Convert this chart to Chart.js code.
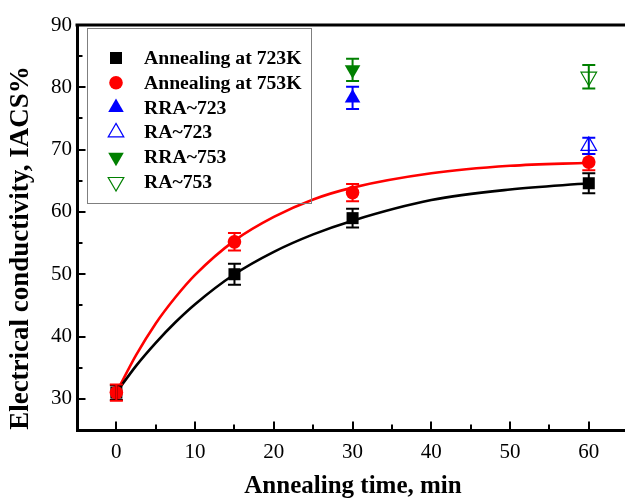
<!DOCTYPE html>
<html>
<head>
<meta charset="utf-8">
<title>Electrical conductivity vs annealing time</title>
<script src="https://cdn.jsdelivr.net/npm/chart.js@4.4.1/dist/chart.umd.min.js"></script>
<style>
    html, body { margin: 0; padding: 0; background: #ffffff; overflow: hidden; }
    #wrap { width: 625px; height: 503px; }
</style>
</head>
<body>
<div id="wrap"><canvas id="condChart" width="625" height="503"></canvas></div>
<script>
// Measured points (min, %IACS) and error half-widths
const timeMin = [0, 15, 30, 60];
const cond723 = [31.0, 50.0, 59.0, 64.6];
const err723 = [1.2, 1.7, 1.5, 1.6];
const cond753 = [31.0, 55.2, 63.1, 68.0];
const err753 = [1.3, 1.4, 1.4, 1.3];

const rra723Time = [30];
const rra723 = [78.3];
const rra723Err = [1.8];
const ra723Time = [60];
const ra723 = [70.6];
const ra723Err = [1.3];
const rra753Time = [30];
const rra753 = [82.8];
const rra753Err = [1.8];
const ra753Time = [60];
const ra753 = [81.7];
const ra753Err = [1.9];

// Fitted curves
const fitTime = [0, 2.5, 5, 7.5, 10, 15, 20, 25, 30, 40, 50, 60];
const fit723 = [31.0, 35.3, 39.0, 42.3, 45.2, 50.0, 53.6, 56.4, 58.6, 61.9, 63.6, 64.6];
const fit753 = [31.0, 37.0, 42.1, 46.3, 49.9, 55.4, 59.2, 62.0, 63.9, 66.2, 67.4, 67.9];

// Axis ticks (every 5, labelled every 10)
const xTicks = [0, 5, 10, 15, 20, 25, 30, 35, 40, 45, 50, 55, 60];
const xTickLabels = [0, 10, 20, 30, 40, 50, 60];
const yTicks = [25, 30, 35, 40, 45, 50, 55, 60, 65, 70, 75, 80, 85, 90];
const yTickLabels = [30, 40, 50, 60, 70, 80, 90];

const xTitle = 'Annealing time, min';
const yTitle = 'Electrical conductivity, IACS%';

const colors = {
    black: '#000000',
    red: '#ff0000',
    blue: '#0000ff',
    green: '#008000',
    legendBorder: '#7f7f7f'
};

const serif = '"Liberation Serif", "Times New Roman", serif';

function pts(xs, ys) {
    return xs.map((x, i) => ({ x: x, y: ys[i] }));
}

function markerSet(label, xs, ys, errs, style, color, filled, radius, rotation, order) {
    return {
        label: label,
        data: pts(xs, ys),
        errors: errs,
        showLine: false,
        pointStyle: style,
        pointRadius: radius,
        pointHoverRadius: radius,
        pointRotation: rotation || 0,
        backgroundColor: filled ? color : 'rgba(0,0,0,0)',
        borderColor: color,
        borderWidth: filled ? 0 : 1.2,
        order: order
    };
}

function curveSet(xs, ys, color) {
    return {
        label: '',
        data: pts(xs, ys),
        showLine: true,
        pointRadius: 0,
        borderColor: color,
        borderWidth: 2.6,
        cubicInterpolationMode: 'monotone',
        fill: false,
        isCurve: true,
        order: 10
    };
}

/**
 * Error bars with caps, drawn from the dataset values
 */
const errorBarPlugin = {
    id: 'errorBars',
    afterDatasetsDraw(chart) {
        const ctx = chart.ctx;
        const yScale = chart.scales.y;
        chart.data.datasets.forEach((ds, i) => {
            if (!ds.errors) return;
            const meta = chart.getDatasetMeta(i);
            ctx.save();
            ctx.strokeStyle = ds.borderColor;
            ctx.lineWidth = 2;
            meta.data.forEach((pt, j) => {
                const v = ds.data[j].y;
                const e = ds.errors[j];
                const top = yScale.getPixelForValue(v + e);
                const bot = yScale.getPixelForValue(v - e);
                const x = pt.x;
                ctx.beginPath();
                ctx.moveTo(x, top);
                ctx.lineTo(x, bot);
                ctx.moveTo(x - 6.5, top);
                ctx.lineTo(x + 6.5, top);
                ctx.moveTo(x - 6.5, bot);
                ctx.lineTo(x + 6.5, bot);
                ctx.stroke();
            });
            ctx.restore();
        });
    }
};

/**
 * Top frame line, inward ticks, titles and the boxed legend
 */
const framePlugin = {
    id: 'frame',
    afterDraw(chart) {
        const ctx = chart.ctx;
        const area = chart.chartArea;
        const xs = chart.scales.x;
        const ys = chart.scales.y;
        ctx.save();

        // top frame
        ctx.strokeStyle = colors.black;
        ctx.lineWidth = 3;
        ctx.beginPath();
        ctx.moveTo(area.left - 1.5, area.top);
        ctx.lineTo(chart.width, area.top);
        ctx.stroke();

        // inward ticks
        ctx.lineWidth = 2;
        ctx.beginPath();
        xs.ticks.forEach(t => {
            const v = t.value;
            const len = v % 10 === 0 ? 8.5 : 5.5;
            const px = Math.round(xs.getPixelForValue(v));
            ctx.moveTo(px, area.bottom);
            ctx.lineTo(px, area.bottom - len);
        });
        ys.ticks.forEach(t => {
            const v = t.value;
            if (v <= ys.min || v >= ys.max) return;
            const len = v % 10 === 0 ? 8.5 : 5.5;
            const py = Math.round(ys.getPixelForValue(v));
            ctx.moveTo(area.left, py);
            ctx.lineTo(area.left + len, py);
        });
        ctx.stroke();

        // axis titles
        ctx.fillStyle = colors.black;
        ctx.textAlign = 'center';
        ctx.textBaseline = 'middle';
        ctx.font = 'bold 25px ' + serif;
        ctx.fillText(xTitle, 353, 487);
        ctx.save();
        ctx.translate(21, 248);
        ctx.rotate(-Math.PI / 2);
        ctx.font = 'bold 27px ' + serif;
        ctx.fillText(yTitle, 0, 0);
        ctx.restore();

        // legend
        ctx.lineWidth = 1;
        ctx.strokeStyle = colors.legendBorder;
        ctx.strokeRect(87.5, 28.5, 224, 175);
        let row = 0;
        ctx.font = 'bold 19.7px ' + serif;
        ctx.textAlign = 'left';
        chart.data.datasets.forEach(ds => {
            if (ds.isCurve) return;
            const cy = 58 + row * 24.8;
            ctx.fillStyle = ds.backgroundColor;
            ctx.strokeStyle = ds.borderColor;
            ctx.lineWidth = ds.borderWidth;
            Chart.helpers.drawPoint(ctx, {
                pointStyle: ds.pointStyle,
                radius: ds.pointRadius,
                rotation: ds.pointRotation,
                borderWidth: ds.borderWidth
            }, 116, cy);
            ctx.fillStyle = colors.black;
            ctx.fillText(ds.label, 144, cy + 1);
            row++;
        });
        ctx.restore();
    }
};

function initChart() {
    const ctx = document.getElementById('condChart');
    return new Chart(ctx, {
        type: 'scatter',
        data: {
            datasets: [
                markerSet('Annealing at 723K', timeMin, cond723, err723, 'rect', colors.black, true, 8.5, 0, 6),
                markerSet('Annealing at 753K', timeMin, cond753, err753, 'circle', colors.red, true, 6.8, 0, 5),
                markerSet('RRA~723', rra723Time, rra723, rra723Err, 'triangle', colors.blue, true, 9, 0, 4),
                markerSet('RA~723', ra723Time, ra723, ra723Err, 'triangle', colors.blue, false, 9, 0, 3),
                markerSet('RRA~753', rra753Time, rra753, rra753Err, 'triangle', colors.green, true, 9, 180, 2),
                markerSet('RA~753', ra753Time, ra753, ra753Err, 'triangle', colors.green, false, 9, 180, 1),
                curveSet(fitTime, fit723, colors.black),
                curveSet(fitTime, fit753, colors.red)
            ]
        },
        options: {
            responsive: false,
            animation: false,
            devicePixelRatio: 1,
            layout: { autoPadding: false, padding: { top: 25, right: 0, left: 0, bottom: 0 } },
            plugins: {
                legend: { display: false },
                tooltip: { enabled: false }
            },
            scales: {
                x: {
                    type: 'linear',
                    min: -5,
                    max: 64.6,
                    afterBuildTicks: s => { s.ticks = xTicks.map(v => ({ value: v })); },
                    afterFit: s => { s.height = 73; s.paddingRight = 0; },
                    grid: { display: false, drawTicks: false },
                    border: { display: true, color: colors.black, width: 3 },
                    ticks: {
                        autoSkip: false,
                        maxRotation: 0,
                        padding: 10,
                        color: colors.black,
                        font: { family: serif, size: 21 },
                        callback: v => xTickLabels.includes(v) ? String(v) : ''
                    }
                },
                y: {
                    min: 25,
                    max: 90,
                    afterBuildTicks: s => { s.ticks = yTicks.map(v => ({ value: v })); },
                    afterFit: s => { s.width = 77; },
                    grid: { display: false, drawTicks: false },
                    border: { display: true, color: colors.black, width: 3 },
                    ticks: {
                        autoSkip: false,
                        padding: 5,
                        color: colors.black,
                        font: { family: serif, size: 21 },
                        callback: v => yTickLabels.includes(v) ? String(v) : ''
                    }
                }
            }
        },
        plugins: [errorBarPlugin, framePlugin]
    });
}

initChart();
</script>
</body>
</html>
